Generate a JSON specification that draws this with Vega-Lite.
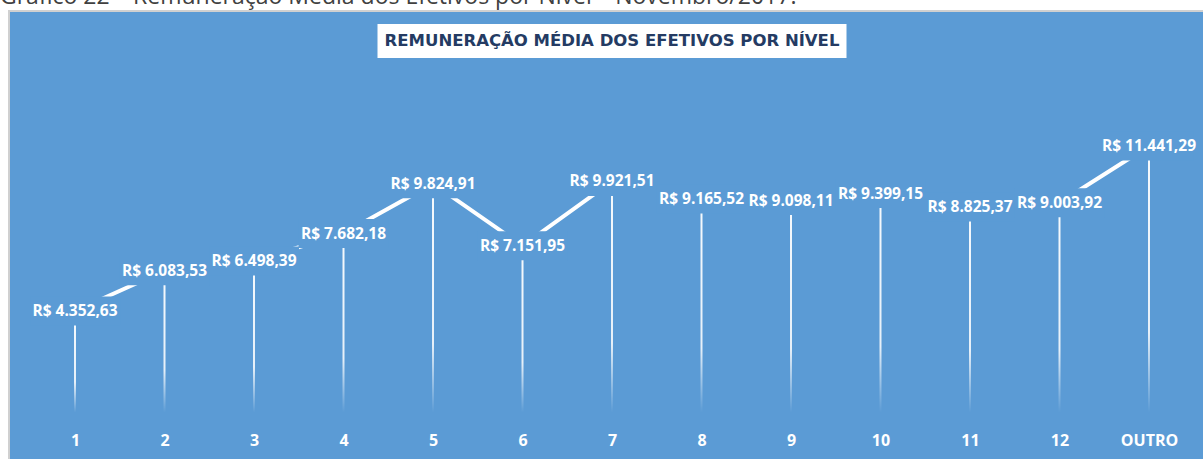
{
  "$schema": "https://vega.github.io/schema/vega-lite/v6.json",
  "width": 1196,
  "height": 450,
  "autosize": {"type": "none"},
  "padding": {"left": 9, "top": 11, "right": -2, "bottom": -2},
  "background": "white",
  "title": {
    "text": "Gráfico 22 – Remuneração Média dos Efetivos por Nível – Novembro/2017.",
    "anchor": "start",
    "orient": "top",
    "frame": "group",
    "baseline": "top",
    "offset": 2,
    "dx": -9,
    "font": "Open Sans",
    "fontSize": 23,
    "fontWeight": "normal",
    "color": "#404040"
  },
  "config": {
    "locale": {"number": {"decimal": ",", "thousands": ".", "grouping": [3], "currency": ["R$ ", ""]}},
    "view": {"fill": "#5B9BD5", "stroke": "#D0D0D0", "strokeWidth": 2}
  },
  "data": {
    "values": [
      {"nivel": "1", "valor": 4352.63},
      {"nivel": "2", "valor": 6083.53},
      {"nivel": "3", "valor": 6498.39},
      {"nivel": "4", "valor": 7682.18},
      {"nivel": "5", "valor": 9824.91},
      {"nivel": "6", "valor": 7151.95},
      {"nivel": "7", "valor": 9921.51},
      {"nivel": "8", "valor": 9165.52},
      {"nivel": "9", "valor": 9098.11},
      {"nivel": "10", "valor": 9399.15},
      {"nivel": "11", "valor": 8825.37},
      {"nivel": "12", "valor": 9003.92},
      {"nivel": "OUTRO", "valor": 11441.29}
    ]
  },
  "encoding": {
    "x": {
      "field": "nivel",
      "type": "ordinal",
      "sort": null,
      "scale": {
        "type": "point",
        "domain": ["1", "2", "3", "4", "5", "6", "7", "8", "9", "10", "11", "12", "OUTRO"],
        "padding": 0.6816,
        "align": 0.541
      },
      "axis": {
        "title": null,
        "domain": false,
        "ticks": false,
        "tickSize": 0,
        "grid": false,
        "labelPadding": 0,
        "offset": -21,
        "labelAngle": 0,
        "labelColor": "white",
        "labelFont": "Open Sans",
        "labelFontWeight": "bold",
        "labelFontSize": 16,
        "labelBaseline": "middle"
      }
    },
    "y": {
      "field": "valor",
      "type": "quantitative",
      "scale": {"domain": [-2091, 17241], "nice": false, "zero": false},
      "axis": null
    }
  },
  "layer": [
    {
      "mark": {
        "type": "bar",
        "size": 2,
        "fill": {
          "gradient": "linear",
          "x1": 0, "y1": 0, "x2": 0, "y2": 1,
          "stops": [
            {"offset": 0, "color": "rgba(255,255,255,0.95)"},
            {"offset": 0.7, "color": "rgba(255,255,255,0.85)"},
            {"offset": 1, "color": "rgba(255,255,255,0)"}
          ]
        }
      },
      "encoding": {"y2": {"datum": 0}}
    },
    {
      "mark": {"type": "line", "color": "white", "strokeWidth": 4}
    },
    {
      "mark": {
        "type": "point",
        "shape": "M-45,-14.5H45V14.5H-45Z",
        "size": 4,
        "filled": true,
        "fill": "#5B9BD5",
        "opacity": 1,
        "strokeWidth": 0
      }
    },
    {
      "mark": {
        "type": "text",
        "color": "white",
        "font": "Open Sans",
        "fontWeight": "bold",
        "fontSize": 15.5,
        "baseline": "middle",
        "align": "center"
      },
      "encoding": {
        "text": {"field": "valor", "type": "quantitative", "format": "$,.2f"}
      }
    },
    {
      "transform": [{"filter": "datum.nivel === '7'"}],
      "mark": {
        "type": "point",
        "shape": "M-234.5,-17H234.5V17H-234.5Z",
        "size": 4,
        "filled": true,
        "fill": "white",
        "opacity": 1,
        "strokeWidth": 0
      },
      "encoding": {
        "y": {"datum": 15952, "type": "quantitative"}
      }
    },
    {
      "transform": [{"filter": "datum.nivel === '7'"}],
      "mark": {
        "type": "text",
        "text": "REMUNERAÇÃO MÉDIA DOS EFETIVOS POR NÍVEL",
        "color": "#243B63",
        "font": "DejaVu Sans",
        "fontWeight": "bold",
        "fontSize": 16.5,
        "baseline": "middle",
        "align": "center"
      },
      "encoding": {
        "y": {"datum": 15952, "type": "quantitative"}
      }
    }
  ]
}
